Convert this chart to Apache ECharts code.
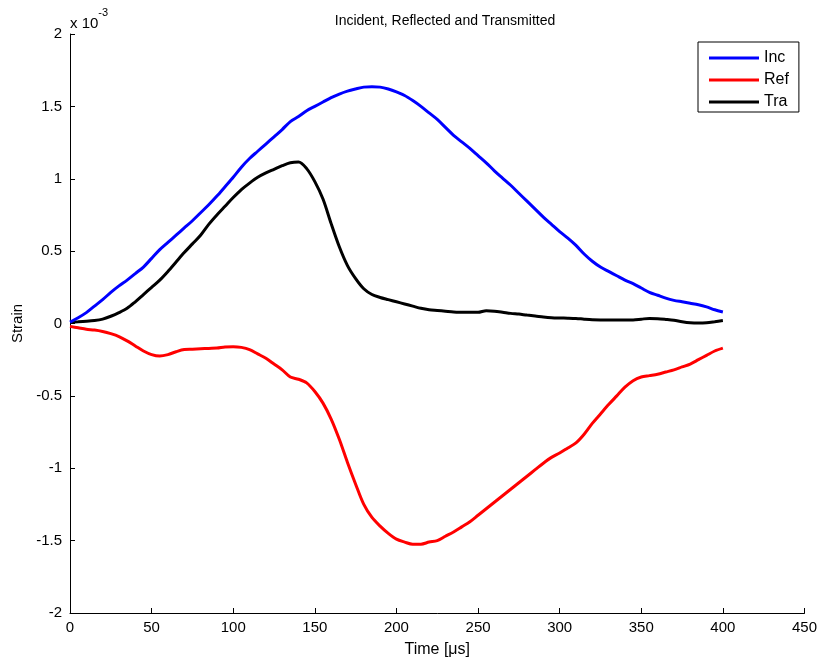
<!DOCTYPE html>
<html>
<head>
<meta charset="utf-8">
<title>Incident, Reflected and Transmitted</title>
<script src="https://cdn.jsdelivr.net/npm/echarts@6/dist/echarts.min.js"></script>
<style>
  html, body { margin: 0; padding: 0; background: #ffffff; }
  #chart { width: 820px; height: 663px; }
</style>
</head>
<body>
<div id="chart"></div>
<script>
// Time base in microseconds, sampled every 5 µs
const timeUs = [];
for (let i = 0; i <= 80; i++) timeUs.push(i * 5);

// Strain values, in units of 1e-3
const incident = [
  0.01, 0.04, 0.075, 0.12, 0.165, 0.215, 0.26, 0.30, 0.345, 0.39,
  0.45, 0.51, 0.56, 0.61, 0.66, 0.71, 0.765, 0.82, 0.88, 0.945,
  1.01, 1.08, 1.14, 1.19, 1.24, 1.29, 1.34, 1.395, 1.43, 1.47,
  1.50, 1.53, 1.56, 1.585, 1.605, 1.62, 1.633, 1.636, 1.633, 1.62,
  1.60, 1.575, 1.54, 1.50, 1.455, 1.41, 1.355, 1.30, 1.255, 1.21,
  1.16, 1.11, 1.055, 1.005, 0.955, 0.90, 0.845, 0.79, 0.735, 0.685,
  0.635, 0.59, 0.54, 0.48, 0.43, 0.39, 0.36, 0.33, 0.30, 0.275,
  0.245, 0.215, 0.195, 0.175, 0.16, 0.15, 0.14, 0.13, 0.115, 0.095,
  0.08
];

const reflected = [
  -0.02, -0.03, -0.04, -0.045, -0.055, -0.07, -0.09, -0.12, -0.155, -0.19,
  -0.215, -0.225, -0.215, -0.195, -0.18, -0.178, -0.175, -0.172, -0.17, -0.162,
  -0.16, -0.165, -0.18, -0.21, -0.24, -0.28, -0.32, -0.37, -0.385, -0.41,
  -0.47, -0.55, -0.66, -0.80, -0.96, -1.11, -1.25, -1.34, -1.40, -1.45,
  -1.49, -1.51, -1.525, -1.525, -1.51, -1.50, -1.47, -1.44, -1.405, -1.37,
  -1.325, -1.28, -1.235, -1.19, -1.145, -1.10, -1.055, -1.01, -0.965, -0.925,
  -0.895, -0.86, -0.825, -0.765, -0.69, -0.625, -0.56, -0.50, -0.44, -0.395,
  -0.37, -0.36, -0.35, -0.335, -0.32, -0.30, -0.28, -0.25, -0.22, -0.19,
  -0.17
];

const transmitted = [
  0.01, 0.012, 0.015, 0.02, 0.03, 0.05, 0.075, 0.105, 0.15, 0.20,
  0.25, 0.30, 0.36, 0.425, 0.49, 0.55, 0.61, 0.685, 0.75, 0.81,
  0.87, 0.925, 0.97, 1.01, 1.04, 1.065, 1.09, 1.11, 1.115, 1.07,
  0.98, 0.86, 0.69, 0.53, 0.40, 0.31, 0.24, 0.20, 0.18, 0.165,
  0.15, 0.135, 0.12, 0.105, 0.095, 0.09, 0.085, 0.08, 0.078, 0.077,
  0.077, 0.088, 0.085, 0.078, 0.07, 0.065, 0.058, 0.052, 0.045, 0.04,
  0.038, 0.037, 0.035, 0.03, 0.026, 0.025, 0.025, 0.025, 0.025, 0.025,
  0.03, 0.035, 0.033, 0.028, 0.022, 0.012, 0.005, 0.003, 0.005, 0.012,
  0.02
];

const seriesNames = ['Inc', 'Ref', 'Tra'];
const seriesColors = ['#0000ff', '#ff0000', '#000000'];
const xTicks = { min: 0, max: 450, step: 50 };
const yTicks = { min: -2, max: 2, step: 0.5 };

const pairs = (vals) => vals.map((v, i) => [timeUs[i], v]);

const font = 'Liberation Sans, Arial, Helvetica, sans-serif';
const chart = echarts.init(document.getElementById('chart'), null, { renderer: 'canvas' });

const lineSeries = [incident, reflected, transmitted].map((vals, k) => ({
  name: seriesNames[k],
  type: 'line',
  data: pairs(vals),
  symbol: 'none',
  smooth: 0.3,
  color: seriesColors[k],
  lineStyle: { width: 3, color: seriesColors[k] },
  z: 3 - k
}));

chart.setOption({
  animation: false,
  backgroundColor: '#ffffff',
  textStyle: { fontFamily: font, color: '#000' },
  title: {
    text: 'Incident, Reflected and Transmitted',
    left: 440,
    textAlign: 'center',
    top: 9,
    textStyle: { fontFamily: font, fontSize: 14, fontWeight: 'normal', color: '#000' }
  },
  grid: { left: 70, right: 14, top: 34, bottom: 50, containLabel: false },
  legend: {
    data: seriesNames.map((n) => ({ name: n, icon: 'rect' })),
    orient: 'vertical',
    left: 698,
    top: 42,
    align: 'left',
    itemWidth: 50,
    itemHeight: 3,
    itemGap: 6,
    padding: [8, 10, 2, 11],
    backgroundColor: '#ffffff',
    borderColor: '#000000',
    borderWidth: 1,
    borderRadius: 0,
    textStyle: { fontFamily: font, fontSize: 16, color: '#000', padding: [0, 0, 0, 0] }
  },
  xAxis: {
    type: 'value',
    min: xTicks.min,
    max: xTicks.max,
    interval: xTicks.step,
    name: 'Time [\u03bcs]',
    nameLocation: 'middle',
    nameGap: 29,
    nameTextStyle: { fontFamily: font, fontSize: 16, color: '#000' },
    axisLine: { show: true, onZero: false, lineStyle: { color: '#000', width: 1 } },
    axisTick: { show: true, inside: true, length: 5, lineStyle: { color: '#000' } },
    axisLabel: { fontFamily: font, fontSize: 15, color: '#000', margin: 7 },
    splitLine: { show: false }
  },
  yAxis: {
    type: 'value',
    min: yTicks.min,
    max: yTicks.max,
    interval: yTicks.step,
    name: 'Strain',
    nameLocation: 'middle',
    nameGap: 42,
    nameRotate: 90,
    nameTextStyle: { fontFamily: font, fontSize: 15, color: '#000' },
    axisLine: { show: true, onZero: false, lineStyle: { color: '#000', width: 1 } },
    axisTick: { show: true, inside: true, length: 5, lineStyle: { color: '#000' } },
    axisLabel: { fontFamily: font, fontSize: 15, color: '#000', margin: 8 },
    splitLine: { show: false }
  },
  graphic: [{
    type: 'text',
    left: 70,
    top: 7,
    style: {
      text: '{b|x 10}{s|-3}',
      rich: {
        b: { fontFamily: font, fontSize: 15, color: '#000', verticalAlign: 'bottom', lineHeight: 24 },
        s: { fontFamily: font, fontSize: 11, color: '#000', verticalAlign: 'top', lineHeight: 24 }
      }
    }
  }],
  series: lineSeries
});
</script>
</body>
</html>
